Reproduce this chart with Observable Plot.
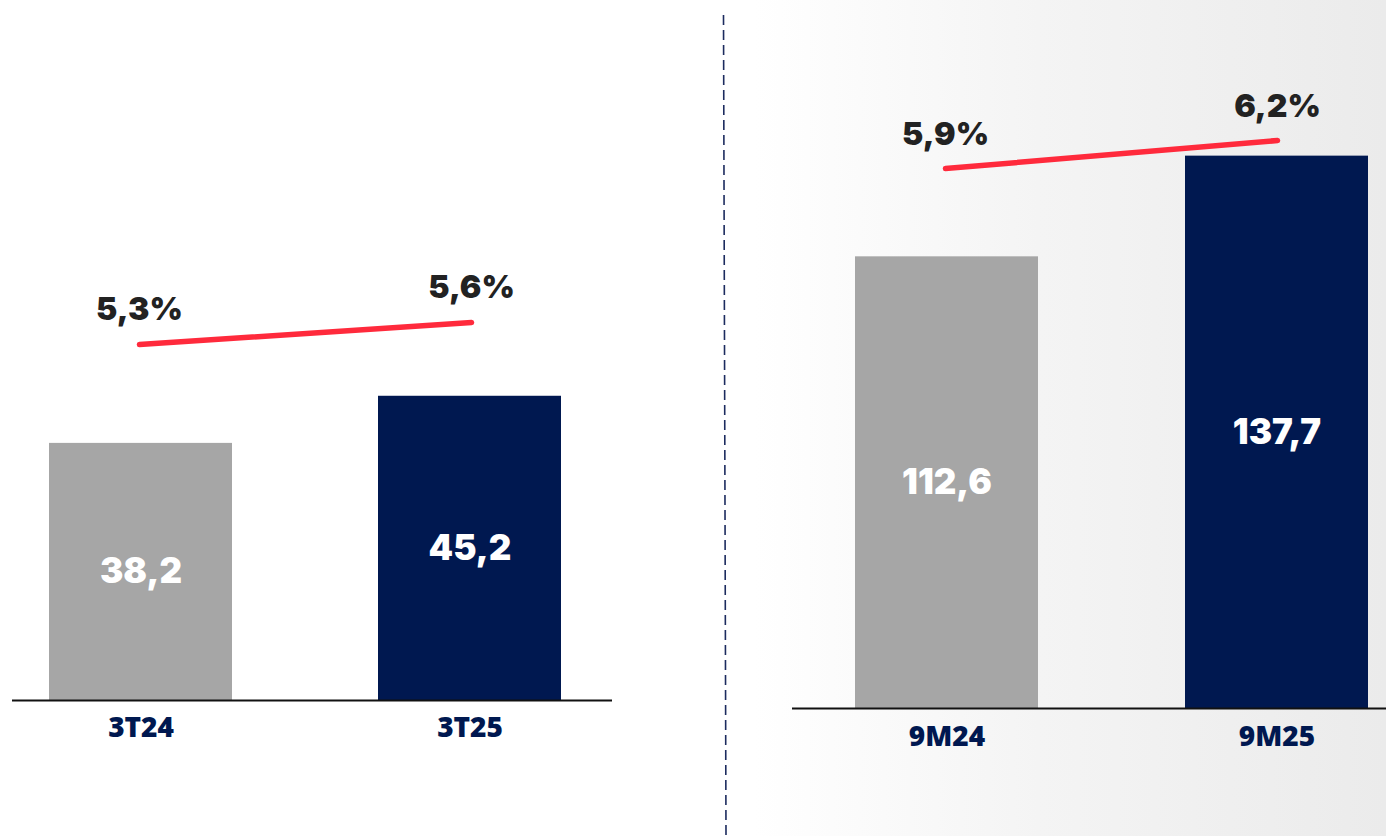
<!DOCTYPE html>
<html>
<head>
<meta charset="utf-8">
<script src="https://cdn.jsdelivr.net/npm/d3@7"></script>
<script src="https://cdn.jsdelivr.net/npm/@observablehq/plot@0.6"></script>
<style>
  html, body { margin: 0; padding: 0; background: #fff; }
  #root { position: relative; width: 1386px; height: 836px; overflow: hidden; background: #fff; }
  #bg { position: absolute; left: 755px; top: 0; width: 631px; height: 836px;
        background: linear-gradient(to right, #ffffff 0%, #f4f4f4 45%, #ebebeb 100%); }
  #root > svg, #root > figure { position: absolute; left: 0; top: 0; }
</style>
</head>
<body>
<div id="root"><div id="bg"></div></div>
<script>
// ---- data ----
const quarterPeriods = ["3T24", "3T25"];
const quarterValues = [38.2, 45.2];
const quarterMargins = [5.3, 5.6];

const ytdPeriods = ["9M24", "9M25"];
const ytdValues = [112.6, 137.7];
const ytdMargins = [5.9, 6.2];

// ---- styles ----
const GRAY = "#a6a6a6";
const NAVY = "#001850";
const RED = "#ff2a3c";
const DARK = "#222222";
const W = 1386, H = 836;
const fmt = v => v.toFixed(1).replace(".", ",");
const fmtPct = v => v.toFixed(1).replace(".", ",") + "%";

const root = document.getElementById("root");

function barPanel(periods, values, cfg) {
  const data = periods.map((p, i) => ({period: p, value: values[i], idx: i}));
  return Plot.plot({
    width: W, height: H,
    marginLeft: cfg.axisLeft, marginRight: W - cfg.axisRight,
    marginTop: 0, marginBottom: H - cfg.base,
    style: {background: "transparent", color: NAVY, fontFamily: "'Open Sans', sans-serif", overflow: "visible"},
    x: {type: "band", domain: periods, range: cfg.xRange, paddingInner: cfg.padIn, paddingOuter: 0, label: null},
    y: {domain: [0, cfg.yMax], range: [cfg.base, 0], axis: null},
    marks: [
      Plot.barY(data, {x: "period", y: "value", fill: d => d.idx === 0 ? GRAY : NAVY}),
      Plot.text(data, {x: "period", y: d => d.value / 2, text: d => fmt(d.value),
        fill: "#ffffff", fontSize: 35, fontWeight: 900, fontFamily: "Inter, sans-serif"}),
      Plot.ruleY([0], {stroke: "#111", strokeWidth: 2}),
      Plot.axisX({tickSize: 0, tickPadding: cfg.tickPad, fontSize: 28, fontWeight: 800,
        fontFamily: "'Open Sans', sans-serif", fill: NAVY, label: null})
    ]
  });
}

function linePanel(periods, margins, cfg) {
  const data = periods.map((p, i) => ({period: p, pct: margins[i]}));
  return Plot.plot({
    width: W, height: H, margin: 0,
    style: {background: "transparent", overflow: "visible"},
    x: {type: "point", domain: periods, range: cfg.xRange, padding: 0, axis: null},
    y: {domain: [margins[0], margins[1]], range: cfg.yRange, axis: null},
    marks: [
      Plot.line(data, {x: "period", y: "pct", stroke: RED, strokeWidth: 5.5, strokeLinecap: "round"}),
      Plot.text(data, {x: "period", y: "pct", text: d => fmtPct(d.pct), dy: cfg.dy,
        fill: DARK, fontSize: 32, fontWeight: 900, fontFamily: "Inter, sans-serif"})
    ]
  });
}

// left panel (quarter)
root.appendChild(barPanel(quarterPeriods, quarterValues,
  {axisLeft: 12, axisRight: 612, base: 700, xRange: [48, 562], padIn: 0.4424, yMax: 104, tickPad: 17}));
root.appendChild(linePanel(quarterPeriods, quarterMargins,
  {xRange: [139, 471], yRange: [344, 322], dy: -35}));

// right panel (year to date)
root.appendChild(barPanel(ytdPeriods, ytdValues,
  {axisLeft: 792, axisRight: 1386, base: 708, xRange: [854, 1369], padIn: 0.444, yMax: 176.5, tickPad: 18}));
root.appendChild(linePanel(ytdPeriods, ytdMargins,
  {xRange: [945, 1277], yRange: [168, 140], dy: -34}));

// dashed divider
const ns = "http://www.w3.org/2000/svg";
const div = document.createElementNS(ns, "svg");
div.setAttribute("width", W); div.setAttribute("height", H);
const ln = document.createElementNS(ns, "line");
ln.setAttribute("x1", 723.5); ln.setAttribute("y1", 15);
ln.setAttribute("x2", 726); ln.setAttribute("y2", 836);
ln.setAttribute("stroke", "#1c2b5e"); ln.setAttribute("stroke-width", 1.6);
ln.setAttribute("stroke-dasharray", "10 5");
div.appendChild(ln);
root.appendChild(div);
</script>
</body>
</html>
